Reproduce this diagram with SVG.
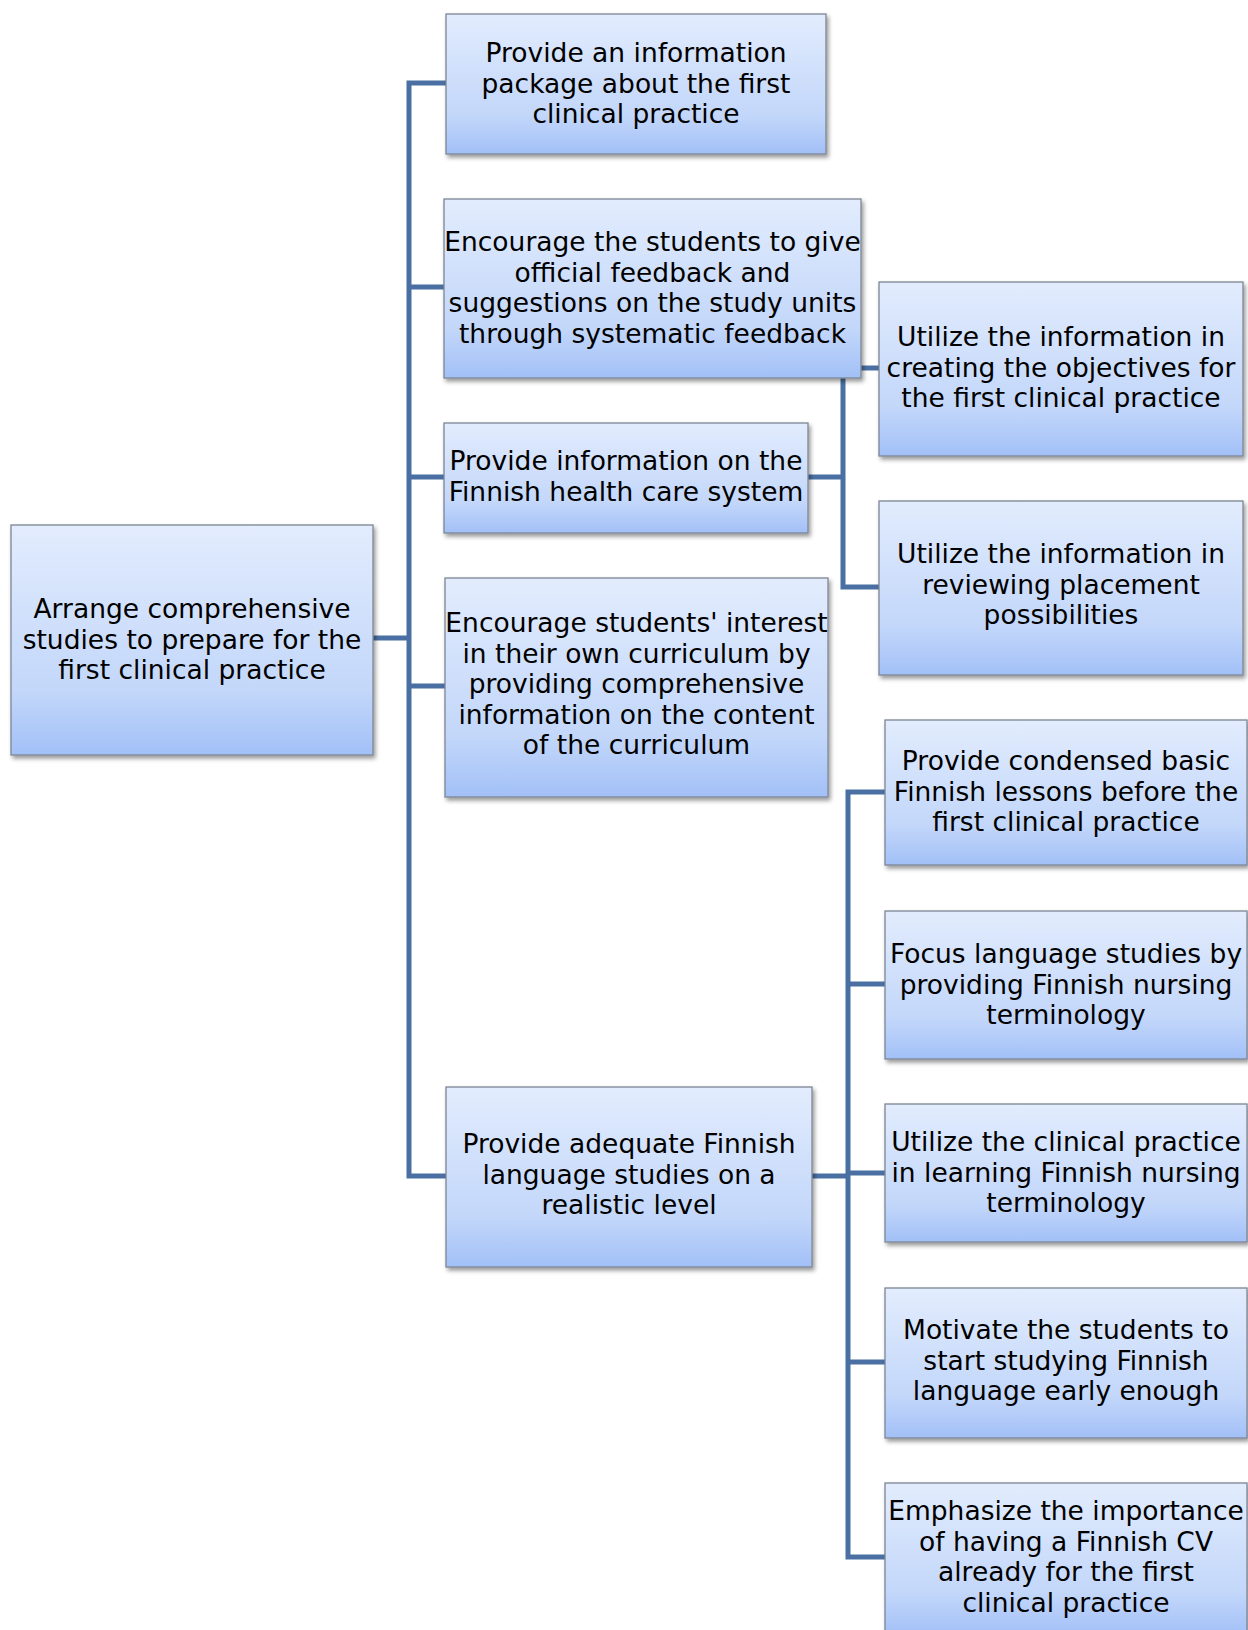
<svg xmlns="http://www.w3.org/2000/svg" width="1248" height="1630" viewBox="0 0 1248 1630">
  <defs>
    <linearGradient id="boxFill" x1="0" y1="0" x2="0" y2="1">
      <stop offset="0" stop-color="#e2ecfd"/>
      <stop offset="0.72" stop-color="#c3d7fa"/>
      <stop offset="1" stop-color="#a2c0f7"/>
    </linearGradient>
    <filter id="shadow" x="-5%" y="-5%" width="112%" height="115%">
      <feDropShadow dx="2" dy="3" stdDeviation="2" flood-color="#000" flood-opacity="0.4"/>
    </filter>
    <style>
      .box { fill: url(#boxFill); stroke: #7d8694; stroke-width: 1.3; filter: url(#shadow); }
      .lbl { font-family: "DejaVu Sans", "Liberation Sans", sans-serif; font-size: 26.5px; fill: #000; text-anchor: middle; }
      .conn { fill: none; stroke: #4a70a3; stroke-width: 5; stroke-linejoin: miter; stroke-linecap: butt; }
    </style>
  </defs>
  <rect width="1248" height="1630" fill="#ffffff"/>

  <!-- connectors -->
  <g id="connectors">
    <path class="conn" d="M373,638 H409"/>
    <path class="conn" d="M446,83 H409 V1176 H446"/>
    <path class="conn" d="M409,287 H444"/>
    <path class="conn" d="M409,477 H444"/>
    <path class="conn" d="M409,686 H445"/>
    <path class="conn" d="M861,368 H879"/>
    <path class="conn" d="M843,368 V587 H879"/>
    <path class="conn" d="M808,477 H843"/>
    <path class="conn" d="M885,792 H848 V1557 H885"/>
    <path class="conn" d="M848,984 H885"/>
    <path class="conn" d="M848,1173 H885"/>
    <path class="conn" d="M848,1362 H885"/>
    <path class="conn" d="M812,1176 H848"/>
  </g>

  <!-- root -->
  <g id="root">
    <rect class="box" x="11" y="525" width="362" height="230"/>
    <text class="lbl" x="192" y="618">Arrange comprehensive</text>
    <text class="lbl" x="192" y="648.5">studies to prepare for the</text>
    <text class="lbl" x="192" y="679">first clinical practice</text>
  </g>

  <g id="info-package">
    <rect class="box" x="446" y="14" width="380" height="140"/>
    <text class="lbl" x="636" y="62">Provide an information</text>
    <text class="lbl" x="636" y="92.5">package about the first</text>
    <text class="lbl" x="636" y="123">clinical practice</text>
  </g>

  <g id="feedback">
    <rect class="box" x="444" y="199" width="417" height="179"/>
    <text class="lbl" x="652.5" y="251">Encourage the students to give</text>
    <text class="lbl" x="652.5" y="281.5">official feedback and</text>
    <text class="lbl" x="652.5" y="312">suggestions on the study units</text>
    <text class="lbl" x="652.5" y="342.5">through systematic feedback</text>
  </g>

  <g id="health-care">
    <rect class="box" x="444" y="423" width="364" height="110"/>
    <text class="lbl" x="626" y="470">Provide information on the</text>
    <text class="lbl" x="626" y="500.5">Finnish health care system</text>
  </g>

  <g id="curriculum">
    <rect class="box" x="445" y="578" width="383" height="219"/>
    <text class="lbl" x="636.5" y="632">Encourage students' interest</text>
    <text class="lbl" x="636.5" y="662.5">in their own curriculum by</text>
    <text class="lbl" x="636.5" y="693">providing comprehensive</text>
    <text class="lbl" x="636.5" y="723.5">information on the content</text>
    <text class="lbl" x="636.5" y="754">of the curriculum</text>
  </g>

  <g id="language">
    <rect class="box" x="446" y="1087" width="366" height="180"/>
    <text class="lbl" x="629" y="1153">Provide adequate Finnish</text>
    <text class="lbl" x="629" y="1183.5">language studies on a</text>
    <text class="lbl" x="629" y="1214">realistic level</text>
  </g>

  <g id="objectives">
    <rect class="box" x="879" y="282" width="364" height="174"/>
    <text class="lbl" x="1061" y="346">Utilize the information in</text>
    <text class="lbl" x="1061" y="376.5">creating the objectives for</text>
    <text class="lbl" x="1061" y="407">the first clinical practice</text>
  </g>

  <g id="placements">
    <rect class="box" x="879" y="501" width="364" height="174"/>
    <text class="lbl" x="1061" y="563">Utilize the information in</text>
    <text class="lbl" x="1061" y="593.5">reviewing placement</text>
    <text class="lbl" x="1061" y="624">possibilities</text>
  </g>

  <g id="condensed-lessons">
    <rect class="box" x="885" y="720" width="362" height="145"/>
    <text class="lbl" x="1066" y="770">Provide condensed basic</text>
    <text class="lbl" x="1066" y="800.5">Finnish lessons before the</text>
    <text class="lbl" x="1066" y="831">first clinical practice</text>
  </g>

  <g id="nursing-terminology">
    <rect class="box" x="885" y="911" width="362" height="148"/>
    <text class="lbl" x="1066" y="963">Focus language studies by</text>
    <text class="lbl" x="1066" y="993.5">providing Finnish nursing</text>
    <text class="lbl" x="1066" y="1024">terminology</text>
  </g>

  <g id="clinical-learning">
    <rect class="box" x="885" y="1104" width="362" height="138"/>
    <text class="lbl" x="1066" y="1151">Utilize the clinical practice</text>
    <text class="lbl" x="1066" y="1181.5">in learning Finnish nursing</text>
    <text class="lbl" x="1066" y="1212">terminology</text>
  </g>

  <g id="early-start">
    <rect class="box" x="885" y="1288" width="362" height="150"/>
    <text class="lbl" x="1066" y="1339">Motivate the students to</text>
    <text class="lbl" x="1066" y="1369.5">start studying Finnish</text>
    <text class="lbl" x="1066" y="1400">language early enough</text>
  </g>

  <g id="finnish-cv">
    <rect class="box" x="885" y="1483" width="362" height="152"/>
    <text class="lbl" x="1066" y="1520">Emphasize the importance</text>
    <text class="lbl" x="1066" y="1550.5">of having a Finnish CV</text>
    <text class="lbl" x="1066" y="1581">already for the first</text>
    <text class="lbl" x="1066" y="1611.5">clinical practice</text>
  </g>
</svg>
